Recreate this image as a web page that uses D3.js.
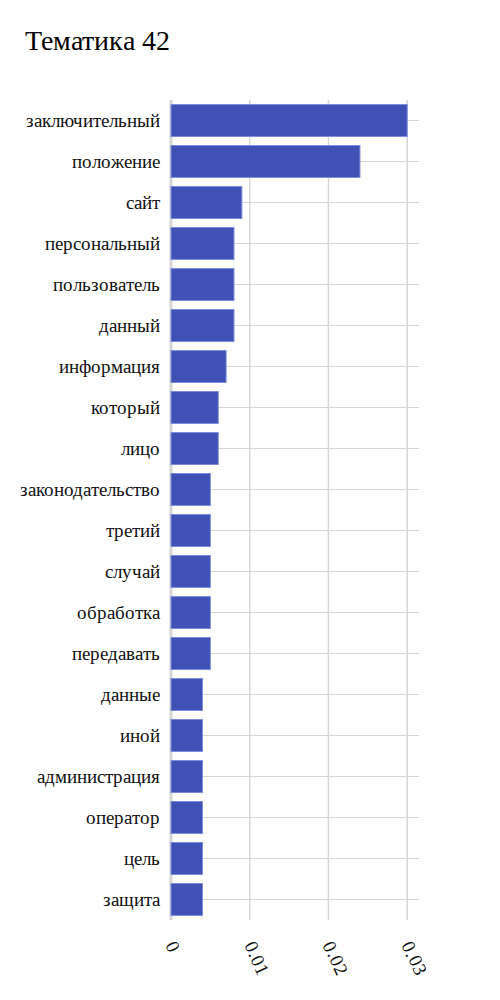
<!DOCTYPE html>
<html>
<head>
<meta charset="utf-8">
<script src="https://cdn.jsdelivr.net/npm/d3@7"></script>
<style>
  @font-face {
    font-family: 'ChartSerif';
    src: local('Liberation Serif'), local('LiberationSerif'), local('Times New Roman');
  }
  svg text { font-family: 'ChartSerif', 'Liberation Serif', 'Times New Roman', serif; }
</style>
</head>
<body style="margin:0;background:#fff">
<script>
// chart data
const words = ['заключительный', 'положение', 'сайт', 'персональный', 'пользователь', 'данный',
  'информация', 'который', 'лицо', 'законодательство', 'третий', 'случай', 'обработка',
  'передавать', 'данные', 'иной', 'администрация', 'оператор', 'цель', 'защита'];
const weights = [0.030, 0.024, 0.009, 0.008, 0.008, 0.008, 0.007, 0.006, 0.006, 0.005,
  0.005, 0.005, 0.005, 0.005, 0.004, 0.004, 0.004, 0.004, 0.004, 0.004];
const ticks = [0, 0.01, 0.02, 0.03];

const width = 500, height = 1000;
const margin = { top: 100, right: 81, bottom: 80, left: 171 };

const svg = d3.select('body').append('svg')
  .attr('width', width)
  .attr('height', height);

svg.append('text')
  .attr('x', 25)
  .attr('y', 50)
  .style('font-size', '28px')
  .attr('fill', '#000')
  .text('Тематика 42');

const x = d3.scaleLinear()
  .domain([0, 0.0315])
  .range([margin.left, width - margin.right]);

const y = d3.scaleBand()
  .domain(words)
  .range([margin.top, height - margin.bottom])
  .paddingInner(0.22)
  .paddingOuter(0.11);

const g = svg.append('g');

// vertical grid
g.selectAll('line.vgrid')
  .data(ticks)
  .join('line')
  .attr('class', 'vgrid')
  .attr('x1', d => x(d)).attr('x2', d => x(d))
  .attr('y1', margin.top).attr('y2', height - margin.bottom)
  .attr('stroke', '#d6d6d6')
  .attr('stroke-width', d => d === 0 ? 3 : 1.5);

// horizontal grid at band centres
g.selectAll('line.hgrid')
  .data(words)
  .join('line')
  .attr('class', 'hgrid')
  .attr('x1', margin.left).attr('x2', width - margin.right)
  .attr('y1', d => y(d) + y.bandwidth() / 2)
  .attr('y2', d => y(d) + y.bandwidth() / 2)
  .attr('stroke', '#d6d6d6')
  .attr('stroke-width', 1.2);

// bars
g.selectAll('rect.bar')
  .data(words)
  .join('rect')
  .attr('class', 'bar')
  .attr('x', x(0))
  .attr('y', d => y(d))
  .attr('width', (d, i) => x(weights[i]) - x(0))
  .attr('height', y.bandwidth())
  .attr('fill', '#3f51b5')
  .attr('stroke', '#7e8fdc')
  .attr('stroke-width', 1);

// category labels
g.selectAll('text.label')
  .data(words)
  .join('text')
  .attr('class', 'label')
  .attr('x', margin.left - 11)
  .attr('y', d => y(d) + y.bandwidth() / 2)
  .attr('dy', '0.35em')
  .attr('text-anchor', 'end')
  .style('font-size', '19px')
  .attr('fill', '#111')
  .text(d => d);

// rotated x tick labels
g.selectAll('text.tick')
  .data(ticks)
  .join('text')
  .attr('class', 'tick')
  .attr('transform', d => `translate(${x(d) - 6},${height - margin.bottom + 25}) rotate(65)`)
  .style('font-size', '19px')
  .attr('fill', '#111')
  .text(d => d === 0 ? '0' : d3.format('.2')(d));
</script>
</body>
</html>
